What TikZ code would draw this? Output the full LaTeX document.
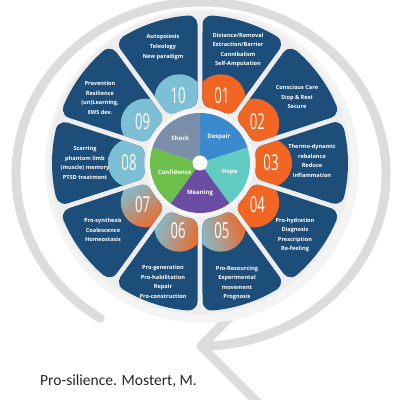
\documentclass[tikz,border=0pt]{standalone}
\usepackage{fontspec}
\setmainfont{Open Sans}
\newfontfamily\capfont{Carlito}
\usetikzlibrary{calc}
\definecolor{petalblue}{HTML}{1D4E7A}
\definecolor{taborange}{HTML}{F26522}
\definecolor{tabblue}{HTML}{7DC0D6}
\definecolor{ringgrey}{HTML}{DCDCDC}
\definecolor{cshock}{HTML}{7A8EA8}
\definecolor{cdespair}{HTML}{3B8AD0}
\definecolor{chope}{HTML}{62CBC4}
\definecolor{cmeaning}{HTML}{6A4DA3}
\definecolor{cconf}{HTML}{6DBF4B}
\newcommand\petalpath{($(\AinA:65)+(\PhA-90:9)$) -- ($(\AoutB:139)+(\PhA-90:9)$)
  arc[start angle=\PhA-90, end angle=\AoutB, radius=9]
  arc[start angle=\AoutB, end angle=\AoutC, radius=148]
  arc[start angle=\AoutC, end angle=\PhB+90, radius=9]
  -- ($(\AinD:65)+(\PhB+90:9)$)
  arc[start angle=\PhB+90, end angle=\AinD+180, radius=9]
  arc[start angle=\AinD, end angle=\AinA, radius=56]
  arc[start angle=\AinA+180, end angle=\PhA+270, radius=9] -- cycle}
\begin{document}
\begin{tikzpicture}[x=1pt,y=1pt,
  ringline/.style={draw=ringgrey, line width=9pt, line cap=round, line join=round},
  petaltext/.style={text=white, font=\bfseries\fontsize{5.6}{9.6}\selectfont, align=center, inner sep=0pt},
  numtext/.style={text=white, font=\fontsize{22}{22}\selectfont, inner sep=0pt},
  pietext/.style={text=white, font=\bfseries\fontsize{6}{7}\selectfont, inner sep=0pt},
  captext/.style={text=black!85, font=\capfont\fontsize{15.5}{15.5}\selectfont, inner sep=0pt, anchor=base west}
  ]
\useasboundingbox (0,0) rectangle (400,400);
\clip (0,0) rectangle (400,400);
\fill[white] (0,0) rectangle (400,400);
% grey circular arrow
\draw[ringline] (201,226) ++(237:185 and 172)
  arc[start angle=237, end angle=-90, x radius=185, y radius=172] coordinate (tip);
\coordinate (armlow) at ($(tip)+(57,-57)$);
\coordinate (armhigh) at ($(tip)+(46,46)$);
\draw[ringline] (armhigh) -- (tip) -- (armlow);
\begin{scope}[shift={(200,237)}]
  \fill[gray!9] (2,-3) circle (157);
  \fill[gray!14] (0,0) circle (151);
  \fill[white!94!gray] (0,0) circle (54);
  \foreach \n/\th/\ca/\cb in {01/72/taborange/taborange, 02/36/taborange/taborange,
      03/0/taborange/taborange, 04/-36/taborange/taborange, 05/-72/taborange/tabblue,
      06/-108/taborange/tabblue, 07/-144/taborange/tabblue, 08/180/tabblue/tabblue,
      09/144/tabblue/tabblue, 10/108/tabblue/tabblue}{
    \pgfmathsetmacro\PhA{\th-18}
    \pgfmathsetmacro\PhB{\th+18}
    \pgfmathsetmacro\AinA{\PhA+10.19}
    \pgfmathsetmacro\AoutB{\PhA+4.746}
    \pgfmathsetmacro\AoutC{\PhB-4.746}
    \pgfmathsetmacro\AinD{\PhB-10.19}
    \fill[petalblue] \petalpath;
    \begin{scope}
      \clip \petalpath;
      \path[top color=\ca, bottom color=\cb, shading angle=\th] (\th:67) circle (25);
    \end{scope}
    \node[numtext] (num\n) at (\th:71) {\scalebox{0.6}[1]{\n}};
  }
  % petal texts
  \node[petaltext] (t01) at (38,113) {Distance/Removal\\Extraction/Barrier\\Cannibalism\\Self-Amputation};
  \node[petaltext] (t02) at (97,66) {Conscious Care\\Stop \& Rest\\Secure};
  \node[petaltext] (t03) at (112,2) {Thermo-dynamic\\rebalance\\Reduce\\inflammation};
  \node[petaltext] (t04) at (95,-72) {Pro-hydration\\Diagnosis\\Prescription\\Re-feeling};
  \node[petaltext] (t05) at (37,-120) {Pro-Resourcing\\Experimental\\movement\\Prognosis};
  \node[petaltext] (t06) at (-37,-119) {Pro-generation\\Pro-habilitation\\Repair\\Pro-construction};
  \node[petaltext] (t07) at (-97,-67) {Pro-synthesis\\Coalescence\\Homeostasis};
  \node[petaltext] (t08) at (-115,0) {Scarring\\phantom limb\\(muscle) memory\\PTSD treatment};
  \node[petaltext] (t09) at (-100,65) {Provention\\Resilience\\(un)Learning,\\EWS dev.};
  \node[petaltext] (t10) at (-37,116) {Autopoiesis\\Teleology\\New paradigm};
  % inner pie
  \fill[cdespair] (0,0) -- (90:50) arc[start angle=90, end angle=18, radius=50] -- cycle;
  \fill[chope] (0,0) -- (18:50) arc[start angle=18, end angle=-54, radius=50] -- cycle;
  \fill[cmeaning] (0,0) -- (-54:50) arc[start angle=-54, end angle=-126, radius=50] -- cycle;
  \fill[cconf] (0,0) -- (-126:50) arc[start angle=-126, end angle=-198, radius=50] -- cycle;
  \fill[cshock] (0,0) -- (162:50) arc[start angle=162, end angle=90, radius=50] -- cycle;
  \fill[white] (0,0) circle (7.5);
  \node[pietext] (pdespair) at (54:32) {Despair};
  \node[pietext] (phope) at (-17:31) {Hope};
  \node[pietext] (pmeaning) at (-90:30) {Meaning};
  \node[pietext] (pconf) at (-160:27) {Confidence};
  \node[pietext] (pshock) at (128:32) {Shock};
\end{scope}
\node[captext] (caption) at (40,15) {Pro-silience. Mostert, M.};
\end{tikzpicture}
\end{document}
